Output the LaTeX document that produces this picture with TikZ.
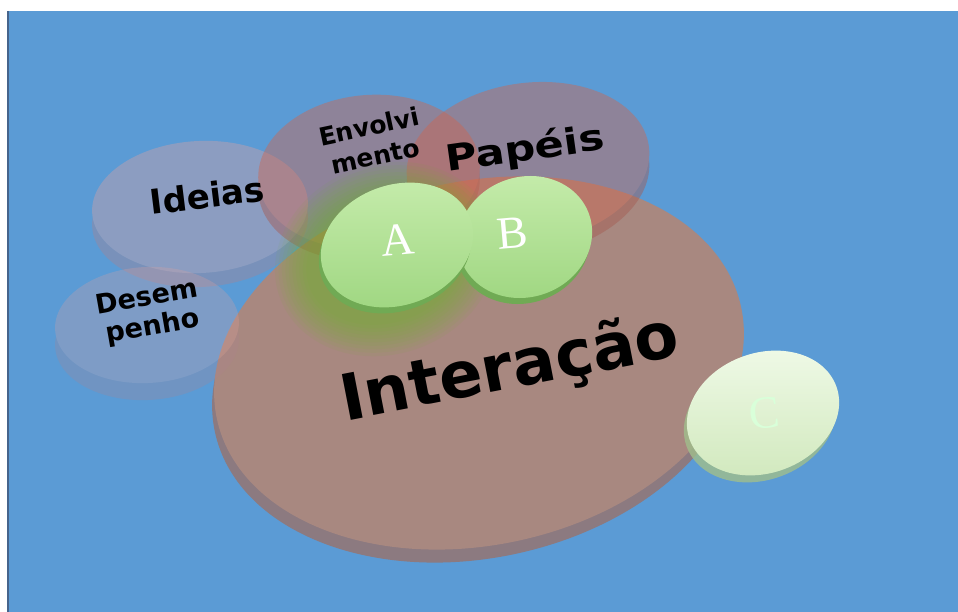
\documentclass[tikz,border=0pt]{standalone}
\usepackage{fontspec}
\newfontfamily\lblfont{DejaVu Sans}
\newfontfamily\letfont{Liberation Serif}
\definecolor{bgblue}{RGB}{91,155,213}
\definecolor{edgeblue}{RGB}{70,100,140}
\definecolor{bigtop}{RGB}{168,136,128}
\definecolor{bigrim}{RGB}{140,122,128}
\definecolor{tint}{RGB}{205,102,80}
\definecolor{tintrim}{RGB}{165,90,80}
\definecolor{tintlight}{RGB}{228,162,158}
\definecolor{tintlightrim}{RGB}{175,130,140}
\definecolor{greenmain}{RGB}{158,214,128}
\definecolor{greenlight}{RGB}{198,236,172}
\definecolor{greendark}{RGB}{112,170,84}
\definecolor{glow}{RGB}{110,185,40}
\definecolor{paletop}{RGB}{240,250,232}
\definecolor{palemain}{RGB}{208,232,188}
\definecolor{paledark}{RGB}{160,190,140}
\tikzset{
  lbl/.style={text=black, inner sep=0pt, font=\lblfont\bfseries},
  letter/.style={text=white, inner sep=0pt, font=\letfont\fontsize{46}{46}\selectfont},
}
\begin{document}
\begin{tikzpicture}[x=1pt,y=-1pt]
\useasboundingbox (0,0) rectangle (958,612);
\fill[white] (0,0) rectangle (958,612);
\fill[bgblue] (7,11) rectangle (958,612);
\draw[edgeblue, line width=1.5pt] (7.75,11) -- (7.75,612);

% big disc Interacao
\fill[bigrim, rotate around={12:(477,376)}] (477,376) ellipse [x radius=268pt, y radius=182pt];
\fill[bigtop, rotate around={12:(479,363)}] (479,363) ellipse [x radius=268pt, y radius=182pt];

% Ideias
\begin{scope}[transparency group, opacity=0.36]
  \fill[tintlightrim, rotate around={3:(200,221)}] (200,221) ellipse [x radius=108pt, y radius=66pt];
  \fill[tintlight, rotate around={3:(200,207)}] (200,207) ellipse [x radius=108pt, y radius=66pt];
\end{scope}
% Desempenho
\begin{scope}[transparency group, opacity=0.26]
  \fill[tintlightrim, rotate around={3:(147,342)}] (147,342) ellipse [x radius=92pt, y radius=58pt];
  \fill[tintlight, rotate around={3:(147,325)}] (147,325) ellipse [x radius=92pt, y radius=58pt];
\end{scope}
% Envolvimento
\begin{scope}[transparency group, opacity=0.45]
  \fill[tintrim, rotate around={5:(369,184)}] (369,184) ellipse [x radius=111pt, y radius=77pt];
  \fill[tint, rotate around={5:(369,172)}] (369,172) ellipse [x radius=111pt, y radius=77pt];
\end{scope}
% Papeis
\begin{scope}[transparency group, opacity=0.45]
  \fill[tintrim, rotate around={8:(528,175)}] (528,175) ellipse [x radius=122pt, y radius=80pt];
  \fill[tint, rotate around={8:(528,163)}] (528,163) ellipse [x radius=122pt, y radius=80pt];
\end{scope}

% glow around A
\foreach \k in {1,...,10}
  \fill[glow, opacity=0.07, rotate around={20:(386,259)}] (386,259) ellipse [x radius={78pt+\k*3.5pt}, y radius={60pt+\k*3.5pt}];

% B
\fill[greendark, rotate around={20:(523,243)}] (523,243) ellipse [x radius=68pt, y radius=60pt];
\shade[top color=greenlight, bottom color=greenmain, rotate around={20:(525,237)}] (525,237) ellipse [x radius=68pt, y radius=60pt];
% A
\fill[greendark, rotate around={20:(395,251)}] (395,251) ellipse [x radius=78pt, y radius=60pt];
\shade[top color=greenlight, bottom color=greenmain, rotate around={20:(397,245)}] (397,245) ellipse [x radius=78pt, y radius=60pt];
% C
\fill[paledark, opacity=0.8, rotate around={20:(760,420)}] (760,420) ellipse [x radius=78pt, y radius=60pt];
\shade[top color=paletop, bottom color=palemain, rotate around={20:(763,413)}] (763,413) ellipse [x radius=78pt, y radius=60pt];

% labels
\node[lbl, font=\lblfont\bfseries\fontsize{34}{34}\selectfont, rotate=7] (ideias) at (207,195) {Ideias};
\node[lbl, font=\lblfont\bfseries\fontsize{27}{30}\selectfont, align=center, rotate=10] (desemp) at (150,313) {Desem\\penho};
\node[lbl, font=\lblfont\bfseries\fontsize{25}{30}\selectfont, align=center, rotate=12] (envolv) at (372,141) {Envolvi\\mento};
\node[lbl, font=\lblfont\bfseries\fontsize{36}{36}\selectfont, rotate=8, xscale=1.2] (papeis) at (525,150) {Papéis};
\node[lbl, font=\lblfont\bfseries\fontsize{64}{64}\selectfont, rotate=11] (interacao) at (510,370) {Interação};

\node[letter, rotate=5] (la) at (398,240) {A};
\node[letter, rotate=5] (lb) at (512,233) {B};
\node[letter, rotate=5, text=white!85!green] (lc) at (764,413) {C};
\end{tikzpicture}
\end{document}
